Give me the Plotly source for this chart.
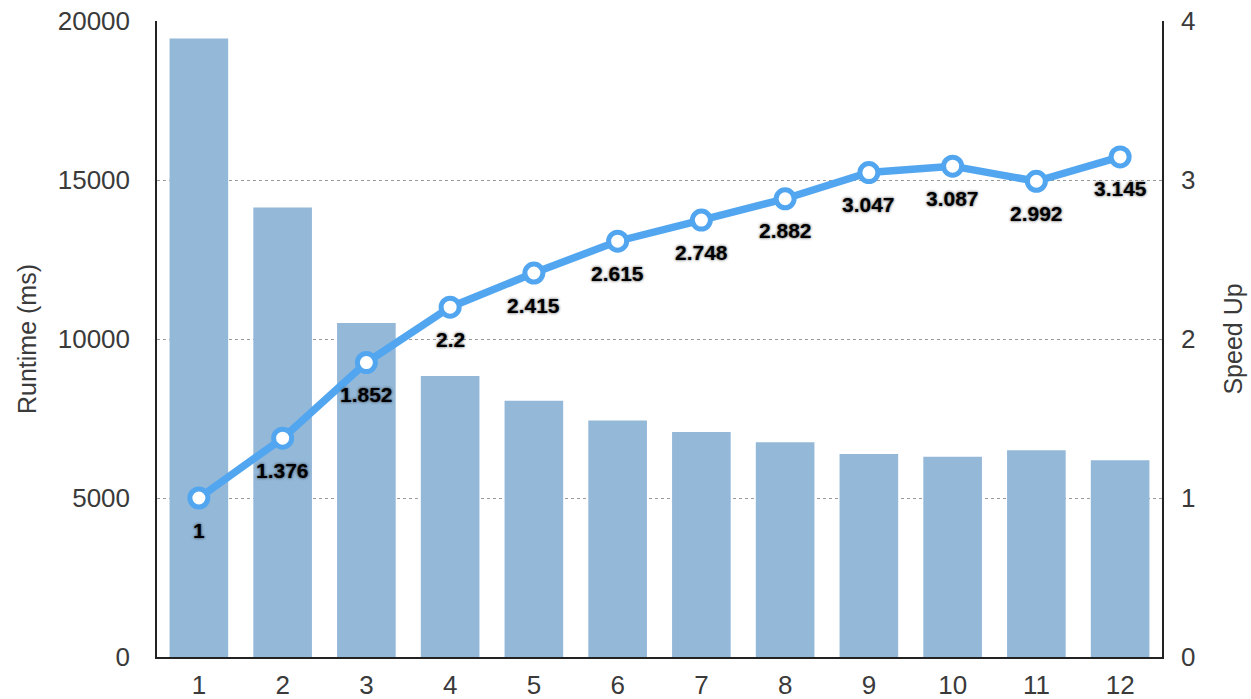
import plotly.graph_objects as go

# Thread counts, measured runtime and resulting speed-up
threads = [1, 2, 3, 4, 5, 6, 7, 8, 9, 10, 11, 12]
runtime_ms = [19450, 14135, 10500, 8840, 8055, 7440, 7075, 6750, 6385, 6300, 6500, 6185]
speed_up = [1, 1.376, 1.852, 2.2, 2.415, 2.615, 2.748, 2.882, 3.047, 3.087, 2.992, 3.145]
speed_labels = ["1", "1.376", "1.852", "2.2", "2.415", "2.615", "2.748", "2.882",
                "3.047", "3.087", "2.992", "3.145"]

runtime_ticks = [0, 5000, 10000, 15000, 20000]
speed_ticks = [0, 1, 2, 3, 4]

BAR_COLOR = "#94b8d8"
LINE_COLOR = "#52a6f0"
TEXT_COLOR = "#3a3a3a"
FONT = "Liberation Sans, Arial, sans-serif"

fig = go.Figure()

fig.add_trace(go.Bar(
    x=threads, y=runtime_ms, width=0.7,
    marker=dict(color=BAR_COLOR, line=dict(width=0)),
    yaxis="y", hoverinfo="skip", showlegend=False,
))

fig.add_trace(go.Scatter(
    x=threads, y=speed_up, yaxis="y2", mode="lines+markers",
    line=dict(color=LINE_COLOR, width=7.5),
    marker=dict(size=18, color="white", line=dict(color=LINE_COLOR, width=5)),
    showlegend=False,
))

# Value labels under each speed-up point
for t, s, lab in zip(threads, speed_up, speed_labels):
    fig.add_annotation(
        x=t, y=s, xref="x", yref="y2", text=lab, showarrow=False,
        yshift=-32,
        font=dict(family=FONT, size=21, color="black", weight="bold",
                  shadow="0px 0px 3px rgba(0,0,0,0.75)"),
    )

fig.update_layout(
    width=1251, height=699,
    margin=dict(l=157, r=89, t=21, b=42, autoexpand=False),
    paper_bgcolor="white", plot_bgcolor="white",
    font=dict(family=FONT, color=TEXT_COLOR),
    bargap=0.3,
    xaxis=dict(
        range=[0.5, 12.5], tickmode="array", tickvals=threads,
        ticktext=[str(t) for t in threads],
        tickfont=dict(size=26, color=TEXT_COLOR),
        ticklabelstandoff=4,
        showline=True, linecolor="#222", linewidth=1.5,
        showgrid=False, zeroline=False, ticks="", automargin=False,
    ),
    yaxis=dict(
        range=[0, 20000], tickmode="array", tickvals=runtime_ticks,
        ticktext=[str(v) for v in runtime_ticks],
        tickfont=dict(size=26, color=TEXT_COLOR),
        ticklabelstandoff=20,
        title=dict(text="Runtime (ms)", font=dict(size=25, color=TEXT_COLOR), standoff=14),
        showline=True, linecolor="#222", linewidth=1.5,
        showgrid=True, gridcolor="#9a9a9a", griddash="dot", gridwidth=1,
        zeroline=False, ticks="", automargin=False,
    ),
    yaxis2=dict(
        range=[0, 4], overlaying="y", side="right",
        tickmode="array", tickvals=speed_ticks,
        ticktext=[str(v) for v in speed_ticks],
        tickfont=dict(size=26, color=TEXT_COLOR),
        ticklabelstandoff=12,
        title=dict(text="Speed Up", font=dict(size=25, color=TEXT_COLOR), standoff=30),
        showline=True, linecolor="#222", linewidth=1.5,
        showgrid=False, zeroline=False, ticks="", automargin=False,
    ),
)

fig.write_html("out.html")
